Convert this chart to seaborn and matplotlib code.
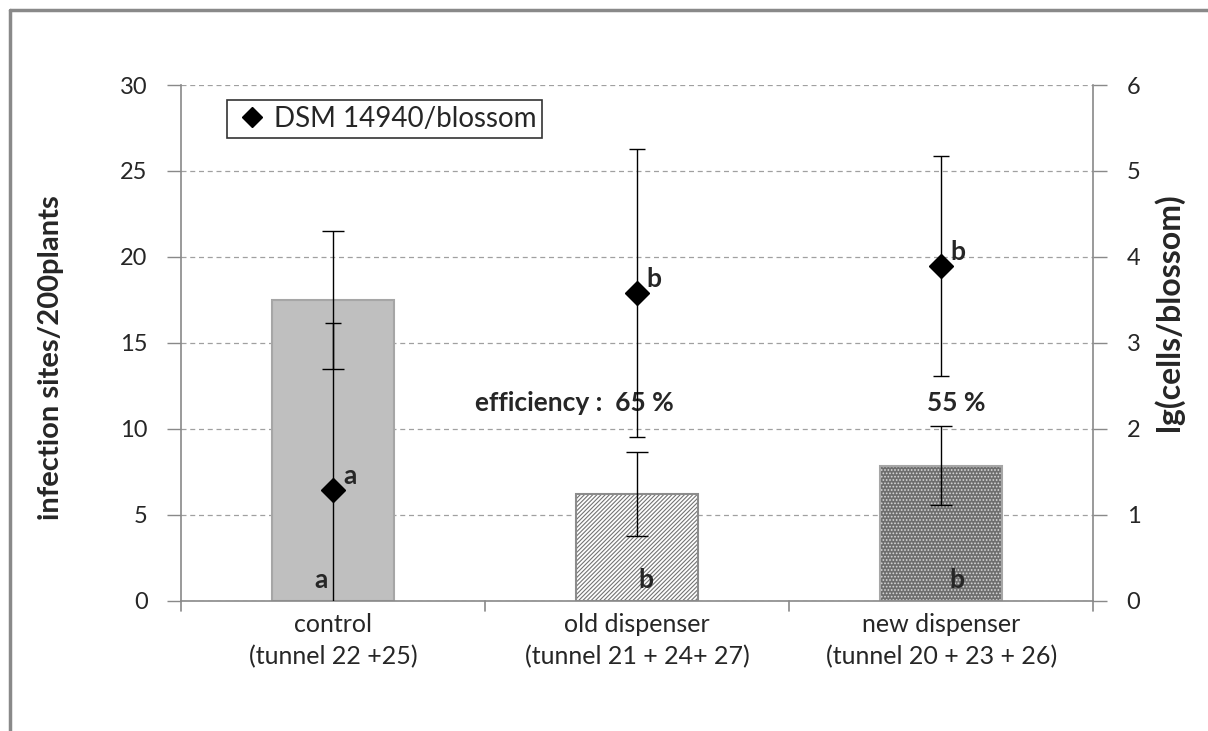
import numpy as np
import pandas as pd
import seaborn as sns
import matplotlib.pyplot as plt
from matplotlib.lines import Line2D

categories = ["control\n(tunnel 22 +25)", "old dispenser\n(tunnel 21 + 24+ 27)",
              "new dispenser\n(tunnel 20 + 23 + 26)"]
infection = [17.5, 6.2, 7.85]
infection_err = [4.0, 2.45, 2.3]
cells = [1.29, 3.58, 3.9]
cells_err = [1.94, 1.67, 1.28]
bar_letters = ["a", "b", "b"]
dot_letters = ["a", "b", "b"]
efficiency = ["efficiency :  65 %", "55 %"]

df = pd.DataFrame({"group": categories, "infection": infection})

sns.set_theme(style="white")
plt.rcParams["font.family"] = ["Lato", "DejaVu Sans"]
plt.rcParams["hatch.linewidth"] = 0.8

fig = plt.figure(figsize=(12.08, 7.31), dpi=100)
ax = fig.add_axes([0.1498, 0.178, 0.7552, 0.7057])

sns.barplot(data=df, x="group", y="infection", width=0.4, ax=ax,
            color="#BFBFBF", saturation=1, zorder=2)
bars = ax.patches
bars[0].set_facecolor("#BFBFBF")
bars[0].set_edgecolor("#A6A6A6")
bars[1].set_facecolor("white")
bars[1].set_edgecolor("#8C8C8C")
bars[1].set_hatch("////////")
bars[2].set_facecolor("#6E6E6E")
bars[2].set_edgecolor("#A6A6A6")
bars[2].set_hatch(".....")
for b in bars:
    b.set_linewidth(1.5)
bars[2]._hatch_color = (0.85, 0.85, 0.85, 1)
bars[1]._hatch_color = (0.45, 0.45, 0.45, 1)

x = np.arange(len(categories))
ax.errorbar(x, infection, yerr=infection_err, fmt="none", ecolor="black",
            elinewidth=1, capsize=8, capthick=1, zorder=3)

ax.set_ylim(0, 30)
ax.set_xlim(-0.5, 2.5)
ax.set_yticks(range(0, 31, 5))
ax.yaxis.grid(True, linestyle=(0, (4, 3)), color="#A0A0A0", linewidth=0.9, zorder=0)
ax.set_axisbelow(True)
ax.set_xlabel("")
ax.set_ylabel("infection sites/200plants", fontsize=21, fontweight="bold",
              ha="center", va="center")
ax.yaxis.set_label_coords(-0.143, 0.471)
ax.tick_params(axis="y", labelsize=17, length=10, direction="out", color="#898989",
               width=1, pad=14, left=True)
ax.tick_params(axis="x", labelsize=18, length=0, pad=9)
ax.set_xticks(x)
ax.set_xticklabels(categories, linespacing=1.45)
for s in ["top", "right"]:
    ax.spines[s].set_visible(False)
for s in ["left", "bottom"]:
    ax.spines[s].set_color("#898989")
    ax.spines[s].set_linewidth(1.2)
# category separators on the x axis
for xb in [-0.5, 0.5, 1.5, 2.5]:
    ax.plot([xb, xb], [0, -0.6], color="#898989", lw=1.2, clip_on=False)

ax2 = ax.twinx()
ax2.errorbar(x, cells, yerr=cells_err, fmt="D", color="black", markersize=12,
             ecolor="black", elinewidth=1, capsize=6, capthick=1, zorder=4)
ax2.set_ylim(0, 6)
ax2.set_xlim(-0.5, 2.5)
ax2.set_yticks(range(0, 7))
ax2.grid(False)
ax2.set_ylabel("lg(cells/blossom)", fontsize=23, fontweight="bold",
               ha="center", va="center")
ax2.yaxis.set_label_coords(1.083, 0.56)
ax2.tick_params(axis="y", labelsize=17, length=10, direction="out", color="#898989",
                width=1, pad=14, right=True)
for s in ["top", "left", "bottom"]:
    ax2.spines[s].set_visible(False)
ax2.spines["right"].set_color("#898989")
ax2.spines["right"].set_linewidth(1.2)

# significance letters
bar_dx = [-0.04, 0.03, 0.05]
for i, t in enumerate(bar_letters):
    ax.text(i + bar_dx[i], 0.5, t, fontsize=19, fontweight="bold", ha="center", va="bottom")
for i, t in enumerate(dot_letters):
    ax2.text(i + 0.055, cells[i] + 0.02, t, fontsize=19, fontweight="bold",
             ha="center", va="bottom")

ax.text(1.12, 11.5, efficiency[0], fontsize=19, fontweight="bold", ha="right", va="center")
ax.text(2.05, 11.5, efficiency[1], fontsize=19, fontweight="bold", ha="center", va="center")

handle = Line2D([], [], marker="D", color="black", linestyle="none", markersize=10)
leg = ax2.legend([handle], ["DSM 14940/blossom"], loc="upper left",
                 bbox_to_anchor=(0.035, 0.997), fontsize=20, frameon=True, fancybox=False,
                 handletextpad=0.1, borderpad=0.2, handlelength=1.4)
leg.get_frame().set_edgecolor("black")
leg.get_frame().set_linewidth(1.2)

# outer chart border (top and left)
fig.add_artist(Line2D([0.008, 0.008], [0, 0.987], color="#898989", lw=2.5))
fig.add_artist(Line2D([0.008, 1.0], [0.987, 0.987], color="#898989", lw=2.5))

fig.savefig("out.png", dpi=100)
